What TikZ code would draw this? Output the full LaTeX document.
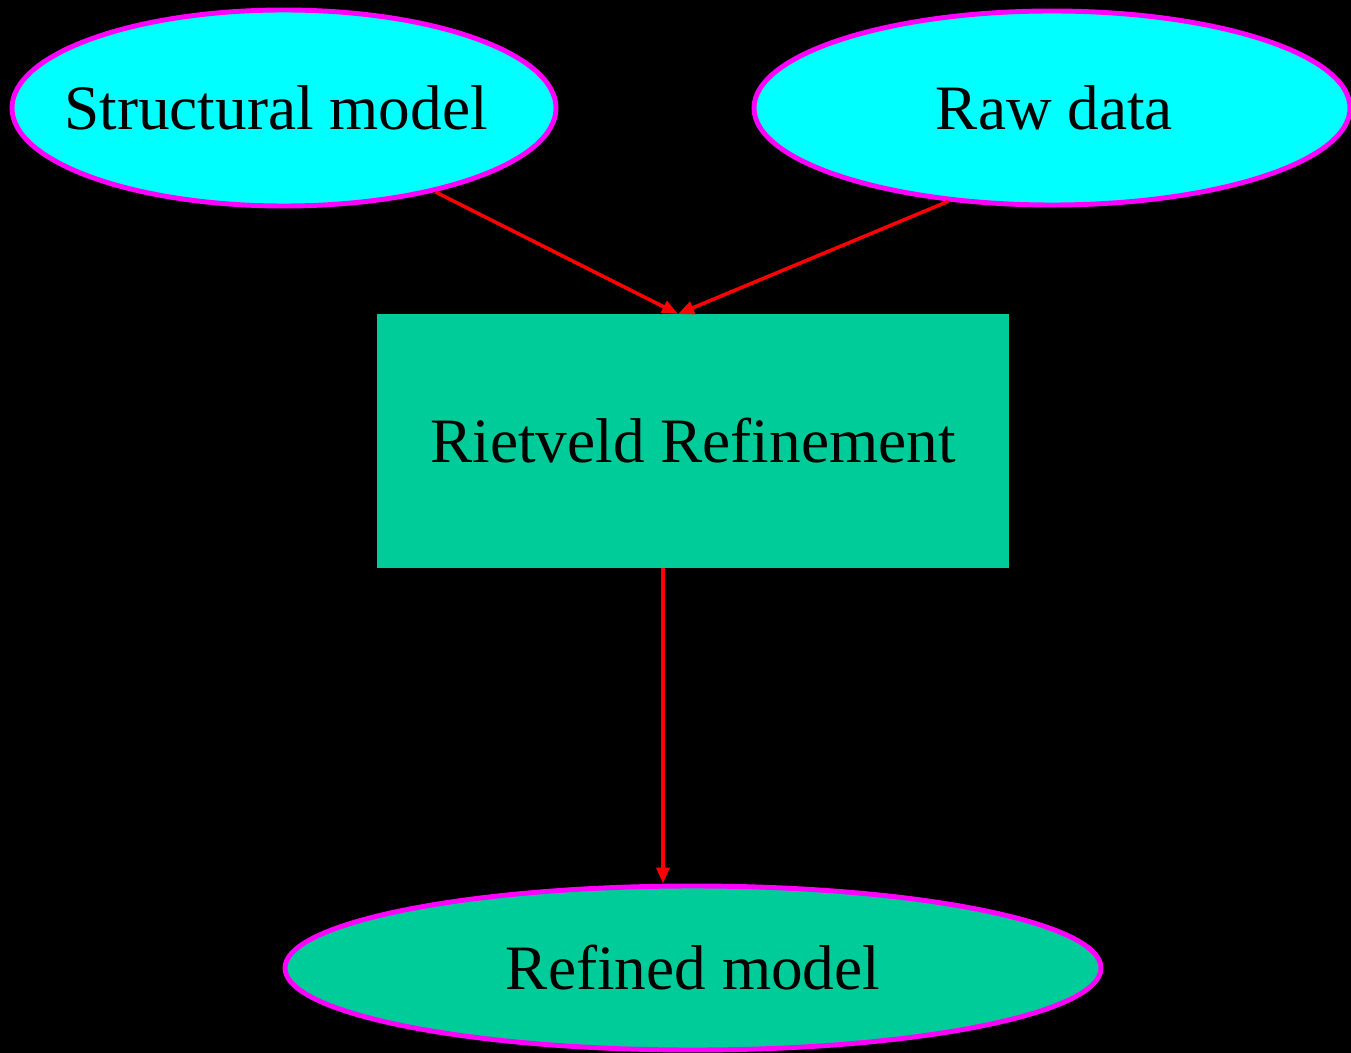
\documentclass[tikz,border=0pt]{standalone}
\usepackage{fontspec}
\setmainfont{Liberation Serif}
\usetikzlibrary{shapes.geometric,arrows.meta}
\definecolor{nodecyan}{RGB}{0,255,255}
\definecolor{nodemag}{RGB}{255,0,255}
\definecolor{nodegreen}{RGB}{0,204,153}
\definecolor{edgered}{RGB}{255,0,0}
\tikzset{
  px/.style={x=0.02cm,y=-0.02cm},
  lbl/.style={font=\fontsize{36}{43}\selectfont, text=black},
  ell/.style={ellipse, draw=nodemag, line width=2.8pt, inner sep=0pt, lbl},
  box/.style={rectangle, fill=nodegreen, draw=none, inner sep=0pt, lbl},
  arr/.style={draw=edgered, line width=2pt, -{Triangle[length=0.32cm,width=0.26cm]}}
}
\begin{document}
\begin{tikzpicture}[px]
\fill[black] (0,0) rectangle (1351,1053);
\useasboundingbox (0,0) rectangle (1351,1053);
\node[ell, fill=nodecyan, minimum width=544*0.02cm, minimum height=196*0.02cm] (sm) at (284,108) {\makebox[0pt][c]{\hspace{-0.32cm}\raisebox{-0.06cm}{Structural model}}};
\node[ell, fill=nodecyan, minimum width=596*0.02cm, minimum height=194*0.02cm] (raw) at (1052,108) {\makebox[0pt][c]{\hspace{0.1cm}\raisebox{-0.06cm}{Raw data}}};
\node[box, minimum width=632*0.02cm, minimum height=254*0.02cm] (rr) at (693,441) {Rietveld Refinement};
\node[ell, fill=nodegreen, minimum width=816*0.02cm, minimum height=164*0.02cm] (rm) at (693,968) {\makebox[0pt][c]{Refined model}};
\coordinate (rtop) at (678,314);
\draw[arr] (sm.331) -- (rtop);
\draw[arr] (raw.222) -- (rtop);
\draw[arr] ([xshift=-0.6cm]rr.south) -- ([xshift=-0.6cm]rm.north);
\end{tikzpicture}
\end{document}
